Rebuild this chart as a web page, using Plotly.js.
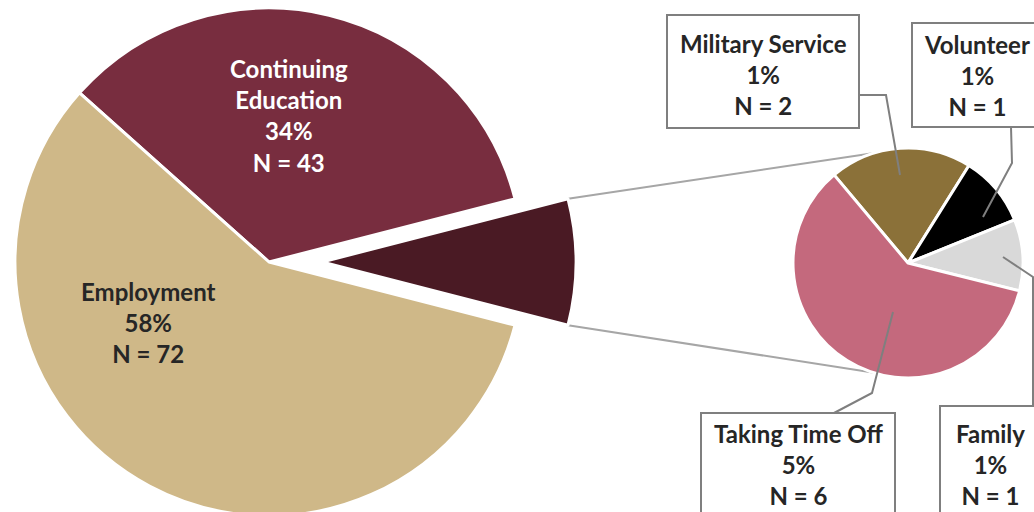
<!DOCTYPE html>
<html><head><meta charset="utf-8">
<script src="https://cdn.plot.ly/plotly-3.0.1.min.js"></script>
<style>
html,body{margin:0;padding:0;overflow:hidden;background:#fff;width:1034px;height:512px}
#chart{width:1080px;height:540px}
</style>
</head><body><div id="chart"></div>
<script>
// ---- data ----
const mainLabels = ['Continuing Education', 'Other', 'Employment'];
const mainValues = [43, 10, 72];
const mainPct    = ['34%', '8%', '58%'];
const mainColors = ['#782d3f', '#4a1a24', '#cfb888'];

const subLabels = ['Military Service', 'Volunteer', 'Family', 'Taking Time Off'];
const subValues = [2, 1, 1, 6];
const subPct    = ['1%', '1%', '1%', '5%'];
const subColors = ['#8b7139', '#000000', '#d9d9d9', '#c4697d'];

// ---- geometry / style ----
const W = 1080, H = 540;
const MC = {x: 269, y: 262, r: 254};   // main pie centre & radius (px)
const PULL = 53;                        // explosion of the "Other" slice (px)
const SC = {x: 908, y: 263, r: 115};   // secondary pie
const SUB_ROT = -40;
const FONT = 'Lato, "Open Sans", sans-serif';
const FS = 24;
const TXT = '#262626';
const BOX = '#7f7f7f';

const px = x => x / W;
const py = y => 1 - y / H;
const dom = (c, dx) => ({x: [px(c.x - c.r + (dx||0)), px(c.x + c.r + (dx||0))],
                          y: [py(c.y + c.r), py(c.y - c.r)]});

const total = mainValues.reduce((a, b) => a + b, 0);
const mainRot = 90 - (mainValues[0] + mainValues[1] / 2) / total * 360;
const T = 'rgba(0,0,0,0)';

const common = {type: 'pie', sort: false, direction: 'clockwise', textinfo: 'none',
                hoverinfo: 'none', showlegend: false};

const traces = [
  Object.assign({}, common, {
    labels: mainLabels, values: mainValues, rotation: mainRot, domain: dom(MC),
    marker: {colors: mainColors.map((c, i) => i === 1 ? T : c),
             line: {color: mainColors.map((c, i) => i === 1 ? T : '#ffffff'), width: 3}}
  }),
  Object.assign({}, common, {
    labels: mainLabels, values: mainValues, rotation: mainRot, domain: dom(MC, PULL),
    marker: {colors: mainColors.map((c, i) => i === 1 ? c : T),
             line: {color: mainColors.map((c, i) => i === 1 ? '#ffffff' : T), width: 3}}
  }),
  Object.assign({}, common, {
    labels: subLabels, values: subValues, rotation: SUB_ROT, domain: dom(SC),
    marker: {colors: subColors, line: {color: '#ffffff', width: 3}}
  })
];

// series lines from the exploded slice to the second pie
const half = mainValues[1] / total * Math.PI;
const cx = MC.x + PULL + MC.r * Math.cos(half);
const shapes = [
  {type: 'line', layer: 'below', xref: 'paper', yref: 'paper',
   x0: px(cx), y0: py(MC.y - MC.r * Math.sin(half)), x1: px(SC.x), y1: py(SC.y - SC.r),
   line: {color: '#a6a6a6', width: 2}},
  {type: 'line', layer: 'below', xref: 'paper', yref: 'paper',
   x0: px(cx), y0: py(MC.y + MC.r * Math.sin(half)), x1: px(SC.x), y1: py(SC.y + SC.r),
   line: {color: '#a6a6a6', width: 2}}
];

// label boxes and leader lines for the second pie
const boxes = [
  {r: [667, 15, 859, 128], c: [763, 74], lead: [[859, 95], [886, 95], [900, 175]]},
  {r: [912, 23, 1044, 127], c: [977, 76], lead: [[1011, 127], [1012, 163], [983, 217]]},
  {r: [940, 406, 1044, 530], c: [990, 464], lead: [[1003, 257], [1033, 277], [1033, 406]]},
  {r: [701, 413, 895, 530], c: [799, 464], lead: [[834, 413], [872, 393], [893, 312]]}
];
boxes.forEach(b => {
  shapes.push({type: 'rect', xref: 'paper', yref: 'paper',
    x0: px(b.r[0]), y0: py(b.r[3]), x1: px(b.r[2]), y1: py(b.r[1]),
    fillcolor: '#ffffff', line: {color: BOX, width: 2}});
  shapes.push({type: 'path', xref: 'paper', yref: 'paper',
    path: b.lead.map((q, i) => (i ? 'L' : 'M') + px(q[0]) + ',' + py(q[1])).join(' '),
    line: {color: BOX, width: 2}});
});

const ann = (x, y, text, color) => ({xref: 'paper', yref: 'paper', x: px(x), y: py(y),
  xanchor: 'center', yanchor: 'middle', showarrow: false, align: 'center',
  text: text, font: {family: FONT, size: FS, color: color}});

const annotations = [
  ann(289, 116, '<b>Continuing<br>Education<br>' + mainPct[0] + '<br>N = ' + mainValues[0] + '</b>', '#ffffff'),
  ann(148, 322, '<b>' + mainLabels[2] + '<br>' + mainPct[2] + '<br>N = ' + mainValues[2] + '</b>', TXT)
];
boxes.forEach((b, i) => annotations.push(
  ann(b.c[0], b.c[1], '<b>' + subLabels[i] + '<br>' + subPct[i] + '<br>N = ' + subValues[i] + '</b>', TXT)));

Plotly.newPlot('chart', traces, {
  width: W, height: H, margin: {l: 0, r: 0, t: 0, b: 0},
  paper_bgcolor: '#ffffff', plot_bgcolor: '#ffffff',
  shapes: shapes, annotations: annotations
}, {staticPlot: true});
</script>
</body></html>
